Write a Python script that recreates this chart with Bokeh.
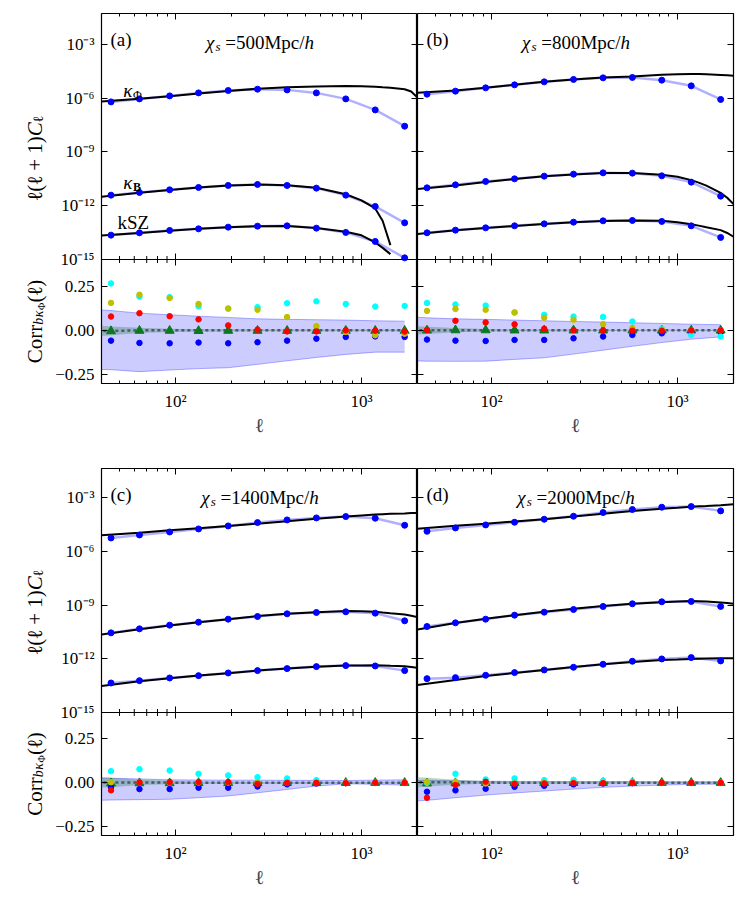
import math
from bokeh.plotting import figure
from bokeh.models import (FixedTicker, LogAxis, CustomJSTickFormatter, Label,
                          Range1d, LinearScale, Span)
from bokeh.layouts import column, row
from bokeh.embed import file_html
from bokeh.resources import INLINE

FONT = "Liberation Serif"
NAN = float("nan")

# ---------------------------------------------------------------- data
ell = [45, 64, 93, 133, 192, 276, 398, 572, 823, 1185, 1706]
th_ell = [40, 64, 93, 133, 192, 276, 398, 572, 823, 1000, 1185, 1300, 1430, 1706, 1850, 2000]
band_ell = [38, 45, 64, 93, 133, 192, 276, 398, 572, 823, 1185, 1706]

panel_tags = ["(a)", "(b)", "(c)", "(d)"]
chi_s = ["500", "800", "1400", "2000"]

x_range = (40, 2000)
x_major = [100, 1000]
x_minor = [50, 60, 70, 80, 90, 200, 300, 400, 500, 600, 700, 800, 900]
y_top_exps = [-15, -12, -9, -6, -3]
y_top_max_exp = [-1.27, -1.38]
y_bot_ticks = [-0.25, 0.0, 0.25]
y_bot_range = (-0.3, 0.4)

# log10[ l(l+1) C_l ] : simulation points (on ell)
a_phi_sim = [-6.203, -6.036, -5.868, -5.701, -5.567, -5.494, -5.533, -5.701, -6.036, -6.65, -7.56]
a_B_sim = [-11.408, -11.258, -11.112, -10.978, -10.867, -10.811, -10.867, -11.017, -11.408, -12.039, -12.953]
a_ksz_sim = [-13.64, -13.512, -13.378, -13.289, -13.194, -13.138, -13.121, -13.249, -13.489, -13.992, -14.907]
b_phi_sim = [-5.772, -5.604, -5.42, -5.252, -5.085, -4.951, -4.862, -4.84, -4.99, -5.308, -6.068]
b_B_sim = [-11.0, -10.833, -10.644, -10.498, -10.348, -10.236, -10.164, -10.18, -10.331, -10.683, -11.464]
b_ksz_sim = [-13.51, -13.361, -13.233, -13.121, -13.01, -12.915, -12.842, -12.82, -12.876, -13.121, -13.769]
c_phi_sim = [-5.257, -5.09, -4.922, -4.754, -4.586, -4.399, -4.25, -4.138, -4.063, -4.157, -4.548]
c_B_sim = [-10.555, -10.331, -10.125, -9.958, -9.79, -9.641, -9.491, -9.417, -9.379, -9.454, -9.883]
c_ksz_sim = [-13.353, -13.222, -13.073, -12.942, -12.793, -12.662, -12.55, -12.439, -12.383, -12.401, -12.662]
d_phi_sim = [-4.884, -4.697, -4.53, -4.38, -4.213, -4.045, -3.839, -3.672, -3.541, -3.504, -3.746]
d_B_sim = [-10.2, -9.995, -9.79, -9.566, -9.398, -9.249, -9.081, -8.932, -8.82, -8.801, -9.081]
d_ksz_sim = [-13.11, -13.054, -12.924, -12.774, -12.625, -12.476, -12.308, -12.14, -12.01, -11.935, -12.121]

# log10[ l(l+1) C_l ] : theory curves (on th_ell)
a_phi_th = [-6.18, -6.03, -5.89, -5.74, -5.60, -5.47, -5.38, -5.34, -5.32, -5.33, -5.36, -5.39, -5.42, -5.50, -5.62, -5.96]
a_B_th = [-11.50, -11.27, -11.12, -10.98, -10.87, -10.82, -10.85, -10.99, -11.36, -11.70, -12.15, -12.85, -14.20, NAN, NAN, NAN]
a_ksz_th = [-13.66, -13.52, -13.39, -13.29, -13.20, -13.14, -13.13, -13.24, -13.45, -13.65, -14.05, -14.35, -14.70, NAN, NAN, NAN]
b_phi_th = [-5.69, -5.57, -5.42, -5.25, -5.085, -4.95, -4.84, -4.78, -4.69, -4.66, -4.65, -4.65, -4.66, -4.70, -4.72, -4.74]
b_B_th = [-11.07, -10.87, -10.67, -10.51, -10.36, -10.25, -10.17, -10.17, -10.27, -10.38, -10.57, -10.71, -10.88, -11.28, -11.55, -11.91]
b_ksz_th = [-13.58, -13.37, -13.24, -13.13, -13.02, -12.92, -12.85, -12.82, -12.84, -12.92, -13.03, -13.11, -13.20, -13.36, -13.52, -13.73]
c_phi_th = [-5.11, -4.96, -4.83, -4.72, -4.59, -4.46, -4.33, -4.19, -4.06, -4.00, -3.95, -3.93, -3.91, -3.89, -3.87, -3.86]
c_B_th = [-10.65, -10.35, -10.14, -9.96, -9.79, -9.62, -9.49, -9.40, -9.34, -9.35, -9.38, -9.42, -9.46, -9.53, -9.60, -9.68]
c_ksz_th = [-13.52, -13.26, -13.09, -12.94, -12.81, -12.66, -12.55, -12.44, -12.38, -12.37, -12.36, -12.37, -12.39, -12.42, -12.46, -12.50]
d_phi_th = [-4.74, -4.57, -4.46, -4.34, -4.21, -4.06, -3.90, -3.75, -3.62, -3.57, -3.52, -3.49, -3.47, -3.43, -3.40, -3.37]
d_B_th = [-10.37, -10.01, -9.77, -9.57, -9.38, -9.21, -9.06, -8.93, -8.84, -8.80, -8.78, -8.79, -8.81, -8.86, -8.89, -8.93]
d_ksz_th = [-13.47, -13.19, -12.96, -12.79, -12.63, -12.46, -12.31, -12.18, -12.07, -12.04, -12.01, -12.00, -11.99, -11.97, -11.97, -11.97]

# correlation coefficients (on ell)
a_cyan = [0.265, 0.190, 0.187, 0.136, 0.123, 0.131, 0.153, 0.164, 0.149, 0.134, 0.138]
a_olive = [0.155, 0.201, 0.183, 0.149, 0.123, 0.116, 0.075, 0.024, -0.009, -0.028, -0.019]
a_red = [0.078, 0.097, 0.080, 0.062, 0.028, 0.004, -0.006, -0.006, 0.0, -0.002, -0.007]
a_blue = [-0.058, -0.071, -0.073, -0.069, -0.073, -0.067, -0.058, -0.047, -0.037, -0.034, -0.037]
a_green = [-0.004, -0.002, -0.002, -0.003, -0.002, -0.002, -0.002, -0.002, -0.002, -0.002, -0.002]
b_cyan = [0.155, 0.146, 0.140, 0.101, 0.088, 0.078, 0.076, 0.050, 0.009, -0.026, -0.035]
b_olive = [0.110, 0.121, 0.116, 0.101, 0.071, 0.060, 0.035, 0.013, 0.004, 0.0, 0.0]
b_red = [0.002, 0.054, 0.045, 0.034, 0.009, 0.002, -0.002, -0.002, -0.002, 0.0, 0.0]
b_blue = [-0.052, -0.058, -0.060, -0.054, -0.054, -0.045, -0.035, -0.026, -0.017, -0.011, -0.011]
b_green = [0.0, 0.001, 0.001, 0.0, 0.0, 0.0, 0.0, 0.0, 0.0, 0.0, 0.0]
c_cyan = [0.066, 0.077, 0.070, 0.051, 0.042, 0.032, 0.025, 0.015, 0.0, 0.0, 0.0]
c_olive = [0.003, 0.002, 0.002, 0.001, 0.001, 0.0, 0.0, 0.0, 0.0, 0.0, 0.0]
c_red = [-0.043, 0.002, 0.004, 0.004, 0.004, -0.006, 0.0, 0.0, -0.002, 0.0, 0.0]
c_blue = [-0.025, -0.036, -0.036, -0.028, -0.028, -0.021, -0.009, -0.004, -0.002, 0.0, 0.0]
c_green = [-0.003, -0.002, -0.002, -0.001, -0.001, -0.001, 0.0, 0.0, 0.0, 0.0, 0.0]
d_cyan = [0.0, 0.051, 0.019, 0.025, 0.015, 0.017, 0.011, 0.008, 0.0, 0.0, 0.0]
d_olive = [0.006, 0.006, -0.004, -0.002, 0.0, 0.0, 0.0, 0.0, 0.0, 0.0, 0.0]
d_red = [-0.085, -0.013, 0.006, -0.006, -0.004, -0.002, -0.002, 0.0, 0.0, 0.0, 0.0]
d_blue = [-0.051, -0.043, -0.034, -0.023, -0.017, -0.009, -0.004, -0.002, 0.0, 0.0, 0.0]
d_green = [-0.003, -0.002, -0.001, 0.0, 0.0, 0.0, 0.0, 0.0, 0.0, 0.0, 0.0]

# error bands (on band_ell)
a_band_up = [0.116, 0.112, 0.097, 0.088, 0.080, 0.073, 0.065, 0.062, 0.060, 0.058, 0.054, 0.052]
a_band_lo = [-0.220, -0.222, -0.233, -0.224, -0.216, -0.211, -0.192, -0.172, -0.153, -0.136, -0.123, -0.123]
b_band_up = [0.075, 0.071, 0.065, 0.062, 0.058, 0.054, 0.050, 0.047, 0.043, 0.039, 0.035, 0.032]
b_band_lo = [-0.172, -0.174, -0.175, -0.174, -0.164, -0.155, -0.134, -0.112, -0.090, -0.069, -0.050, -0.037]
c_band_up = [0.028, 0.026, 0.022, 0.017, 0.016, 0.015, 0.015, 0.014, 0.014, 0.013, 0.015, 0.017]
c_band_lo = [-0.100, -0.098, -0.096, -0.094, -0.085, -0.075, -0.057, -0.038, -0.019, -0.006, -0.009, -0.013]
d_band_up = [0.013, 0.013, 0.011, 0.009, 0.008, 0.008, 0.007, 0.007, 0.007, 0.006, 0.006, 0.006]
d_band_lo = [-0.104, -0.100, -0.085, -0.070, -0.058, -0.047, -0.036, -0.026, -0.019, -0.013, -0.009, -0.008]
a_null_up = [0.028, 0.022, 0.015, 0.009, 0.006, 0.006, 0.005, 0.005, 0.005, 0.005, 0.005, 0.005]
a_null_lo = [-0.034, -0.028, -0.015, -0.009, -0.006, -0.006, -0.005, -0.005, -0.005, -0.005, -0.005, -0.005]
b_null_up = [0.024, 0.021, 0.013, 0.007, 0.005, 0.005, 0.005, 0.004, 0.004, 0.004, 0.004, 0.004]
b_null_lo = [-0.024, -0.021, -0.011, -0.007, -0.005, -0.005, -0.005, -0.004, -0.004, -0.004, -0.004, -0.004]
c_null_up = [0.032, 0.028, 0.017, 0.011, 0.006, 0.006, 0.005, 0.005, 0.005, 0.004, 0.004, 0.004]
c_null_lo = [-0.028, -0.025, -0.013, -0.009, -0.006, -0.006, -0.005, -0.005, -0.005, -0.004, -0.004, -0.004]
d_null_up = [0.032, 0.028, 0.017, 0.009, 0.006, 0.006, 0.005, 0.005, 0.004, 0.004, 0.004, 0.004]
d_null_lo = [-0.025, -0.021, -0.011, -0.006, -0.006, -0.005, -0.005, -0.005, -0.004, -0.004, -0.004, -0.004]

PANELS = [
    dict(sim=[a_phi_sim, a_B_sim, a_ksz_sim], th=[a_phi_th, a_B_th, a_ksz_th],
         corr=[a_blue, a_cyan, a_olive, a_red], green=a_green,
         band=(a_band_lo, a_band_up), null=(a_null_lo, a_null_up)),
    dict(sim=[b_phi_sim, b_B_sim, b_ksz_sim], th=[b_phi_th, b_B_th, b_ksz_th],
         corr=[b_blue, b_cyan, b_olive, b_red], green=b_green,
         band=(b_band_lo, b_band_up), null=(b_null_lo, b_null_up)),
    dict(sim=[c_phi_sim, c_B_sim, c_ksz_sim], th=[c_phi_th, c_B_th, c_ksz_th],
         corr=[c_blue, c_cyan, c_olive, c_red], green=c_green,
         band=(c_band_lo, c_band_up), null=(c_null_lo, c_null_up)),
    dict(sim=[d_phi_sim, d_B_sim, d_ksz_sim], th=[d_phi_th, d_B_th, d_ksz_th],
         corr=[d_blue, d_cyan, d_olive, d_red], green=d_green,
         band=(d_band_lo, d_band_up), null=(d_null_lo, d_null_up)),
]
corr_colors = ["#0000ff", "#00ffff", "#bfbf00", "#ff0000"]

# ---------------------------------------------------------------- layout constants
ROW_H = [(246, 124), (244, 123)]          # (upper, lower) frame heights per row
ROW_BORDER = [(13, 85), (0, 58)]           # (top, bottom) borders per row
LABEL_COL_W = 48
FRAME_W = 316
TOP_LABEL_SHIFT = -22                      # visual centring of the upper y label

# ---------------------------------------------------------------- text helpers
W = {" ": 0.25, "(": 0.333, ")": 0.333, "+": 0.564, "=": 0.564, "/": 0.278, ".": 0.25,
     "M": 0.889, "C": 0.667, "S": 0.556, "Z": 0.611, "B": 0.667, "a": 0.444, "b": 0.5,
     "c": 0.444, "d": 0.5, "h": 0.5, "k": 0.5, "o": 0.5, "p": 0.5, "r": 0.333, "s": 0.389,
     "ℓ": 0.42, "κ": 0.55, "Φ": 0.76, "χ": 0.55}


def tw(s, size):
    return sum(W.get(ch, 0.5) for ch in s) * size


def put(p, text, x, y, size, style, angle, units):
    p.add_layout(Label(x=x, y=y, x_units=units, y_units=units, text=text,
                       text_font=FONT, text_font_size=f"{size}px", text_font_style=style,
                       text_color="black", text_baseline="alphabetic",
                       text_align="center", angle=angle))


def rich(p, pieces, x, y, anchor="left", units="screen"):
    """horizontal composite text, y measured upward"""
    total = sum(tw(t, s) for t, s, st, dy in pieces)
    pos = x - (total / 2 if anchor == "center" else 0)
    for t, s, st, dy in pieces:
        lead = len(t) - len(t.lstrip(" "))
        pos += tw(" " * lead, s)
        body = t.strip(" ")
        w = tw(body, s)
        put(p, body, pos + w / 2, y + dy, s, st, 0.0, units)
        pos += tw(t.lstrip(" "), s)


def rich_vertical(p, pieces, x, yc, units="data"):
    """rotated (reads bottom to top) composite text, one glyph per label"""
    total = sum(tw(t, s) for t, s, st, dy in pieces)
    pos = yc - total / 2
    for t, s, st, dy in pieces:
        for ch in t:
            w = tw(ch, s)
            if ch != " ":
                put(p, ch, x - dy, pos + w / 2, s, st, math.pi / 2, units)
            pos += w


blank_fmt = CustomJSTickFormatter(code="return '';")
x_ticker = FixedTicker(ticks=x_major, minor_ticks=x_minor)
x_fmt = CustomJSTickFormatter(code="""
const m = {"-":"\u207b","0":"\u2070","1":"\u00b9","2":"\u00b2","3":"\u00b3","4":"\u2074","5":"\u2075","6":"\u2076","7":"\u2077","8":"\u2078","9":"\u2079"};
const e = String(Math.round(Math.log10(tick)));
let s = "";
for (const ch of e) s += m[ch];
return "10" + s;
""")


def style_axis(ax, ticker, fmt, labels, size="17px", standoff=8):
    ax.ticker = ticker
    ax.formatter = fmt if labels else blank_fmt
    ax.axis_line_color = None
    ax.major_tick_in = 6
    ax.major_tick_out = 0
    ax.minor_tick_in = 3
    ax.minor_tick_out = 0
    ax.major_tick_line_color = "black"
    ax.minor_tick_line_color = "black"
    ax.major_tick_line_width = 1
    ax.minor_tick_line_width = 1
    if labels:
        ax.major_label_text_font = FONT
        ax.major_label_text_font_size = size
        ax.major_label_standoff = standoff
        ax.major_label_text_color = "black"
    else:
        ax.major_label_text_font_size = "0px"
        ax.major_label_standoff = 0


def label_column(r):
    Ht, Hb = ROW_H[r]
    bt, bb = ROW_BORDER[r]
    H = Ht + Hb
    # data units of this helper figure are pixels of its frame
    p = figure(frame_width=LABEL_COL_W, frame_height=H,
               x_range=Range1d(0, LABEL_COL_W), y_range=Range1d(0, H),
               x_axis_location=None, y_axis_location=None, output_backend="svg",
               toolbar_location=None, min_border_left=0, min_border_right=0,
               min_border_top=bt, min_border_bottom=bb)
    p.grid.visible = False
    p.outline_line_color = None
    p.background_fill_color = "white"
    p.border_fill_color = "white"
    xb = 34
    rich_vertical(p, [("ℓ(ℓ + 1)", 21, "normal", 0), ("C", 21, "italic", 0),
                      ("ℓ", 14, "normal", -4)], xb, Hb + Ht / 2 + TOP_LABEL_SHIFT)
    rich_vertical(p, [("Corr", 21, "normal", 0), ("bκ", 14, "italic", -4),
                      ("Φ", 10, "normal", -7), ("(ℓ)", 21, "normal", 0)], xb, Hb / 2)
    return p


def build(i):
    r, c = divmod(i, 2)
    D = PANELS[i]
    Ht, Hb = ROW_H[r]
    bt, bb = ROW_BORDER[r]
    H = Ht + Hb
    top_exp = y_top_max_exp[r]
    sep_exp = y_top_exps[0]
    span = y_bot_range[1] - y_bot_range[0]
    k = (Hb / span) / (Ht / (top_exp - sep_exp))
    log_bottom = sep_exp - span * k
    corr_top = y_bot_range[0] + span * H / Hb

    p = figure(frame_width=FRAME_W, frame_height=H, x_axis_type="log", y_axis_type="log",
               x_range=Range1d(*x_range), y_range=Range1d(10 ** log_bottom, 10 ** top_exp),
               output_backend="svg", toolbar_location=None,
               min_border_left=(101 - LABEL_COL_W) if c == 0 else 0,
               min_border_right=0 if c == 0 else 8,
               min_border_top=bt, min_border_bottom=bb)
    p.extra_y_ranges = {"corr": Range1d(y_bot_range[0], corr_top)}
    p.extra_y_scales = {"corr": LinearScale()}
    p.grid.visible = False
    p.outline_line_color = "black"
    p.outline_line_width = 1.2
    p.background_fill_color = "white"
    p.border_fill_color = "white"

    y_ticks = [10.0 ** e for e in y_top_exps] + \
              [10.0 ** (sep_exp - (y_bot_range[1] - v) * k) for v in y_bot_ticks]
    y_ticker = FixedTicker(ticks=y_ticks, minor_ticks=[])
    y_fmt = CustomJSTickFormatter(args=dict(k=k, ctop=y_bot_range[1], sep=sep_exp), code="""
const L = Math.log10(tick);
if (L > sep - 0.5) {
  const m = {"-":"\u207b","0":"\u2070","1":"\u00b9","2":"\u00b2","3":"\u00b3","4":"\u2074","5":"\u2075","6":"\u2076","7":"\u2077","8":"\u2078","9":"\u2079"};
  const e = String(Math.round(L));
  let s = "";
  for (const ch of e) s += m[ch];
  return "10" + s;
}
let v = ctop - (sep - L) / k;
v = Math.round(v * 100) / 100;
if (Math.abs(v) < 1e-9) v = 0;
return (v < 0 ? "\u2212" : "") + Math.abs(v).toFixed(2);
""")

    style_axis(p.xaxis[0], x_ticker, x_fmt, True, size="17px", standoff=8)
    p.xaxis[0].axis_label = "ℓ"
    p.xaxis[0].axis_label_text_font = FONT
    p.xaxis[0].axis_label_text_font_size = "20px"
    p.xaxis[0].axis_label_text_font_style = "normal"
    p.xaxis[0].axis_label_standoff = 0
    top_ax = LogAxis()
    style_axis(top_ax, x_ticker, None, False)
    p.add_layout(top_ax, "above")
    style_axis(p.yaxis[0], y_ticker, y_fmt, c == 0, size="17px", standoff=7)
    right_ax = LogAxis()
    style_axis(right_ax, y_ticker, None, False)
    p.add_layout(right_ax, "right")

    # ---- upper panel: spectra
    for sim, th in zip(D["sim"], D["th"]):
        ys = [10.0 ** v for v in sim]
        yt = [10.0 ** v for v in th]
        p.line(ell, ys, line_color="#6f6fff", line_alpha=0.55, line_width=2.5)
        p.line(th_ell, yt, line_color="black", line_width=2)
        p.scatter(ell, ys, size=6, fill_color="#0000ff", line_color="#0000ff")

    # separator between the two panels
    sep = 10.0 ** sep_exp
    p.add_layout(Span(location=sep, dimension="width", line_color="black", line_width=1.2))
    p.scatter(x_major, [sep] * len(x_major), marker="dash", angle=math.pi / 2, size=12,
              line_color="black", line_width=1)
    p.scatter(x_minor, [sep] * len(x_minor), marker="dash", angle=math.pi / 2, size=7,
              line_color="black", line_width=1)

    # ---- lower panel: correlations
    lo, up = D["band"]
    p.varea(x=band_ell, y1=lo, y2=up, fill_color="#0000ff", fill_alpha=0.2, y_range_name="corr")
    p.line(band_ell, lo, line_color="#0000ff", line_alpha=0.3, line_width=1, y_range_name="corr")
    p.line(band_ell, up, line_color="#0000ff", line_alpha=0.3, line_width=1, y_range_name="corr")
    nlo, nup = D["null"]
    p.varea(x=band_ell, y1=nlo, y2=nup, fill_color="#2e7d4f", fill_alpha=0.35, y_range_name="corr")
    mid = [(a + b) / 2 for a, b in zip(nlo, nup)]
    p.line(band_ell, mid, line_color="#4a5a6c", line_width=2.5, line_dash="3 3", y_range_name="corr")
    p.scatter(ell, D["green"], marker="triangle", size=9, fill_color="#0b7a1e",
              line_color="#0b7a1e", y_range_name="corr")
    for vals, col in zip(D["corr"], corr_colors):
        p.scatter(ell, vals, size=5.5, fill_color=col, line_color=col, y_range_name="corr")

    # ---- texts
    rich(p, [(panel_tags[i], 19, "normal", 0)], 9, H - 26)
    rich(p, [("χ", 19, "italic", 0), ("s", 13, "italic", -4), (" =", 19, "normal", 0),
             (chi_s[i] + "Mpc/", 19, "normal", 0), ("h", 19, "italic", 0)],
         158, H - 29, anchor="center")
    if i == 0:
        rich(p, [("κ", 19, "italic", 0), ("Φ", 12, "normal", -4)], 21, Hb + 169)
        rich(p, [("κ", 19, "italic", 0), ("B", 12, "bold", -4)], 21, Hb + 77)
        rich(p, [("kSZ", 19, "normal", 0)], 16, Hb + 37)
    return p


figs = [build(i) for i in range(4)]
layout = column(row(label_column(0), figs[0], figs[1]),
                row(label_column(1), figs[2], figs[3]))
open("out.html", "w").write(file_html(layout, INLINE))
